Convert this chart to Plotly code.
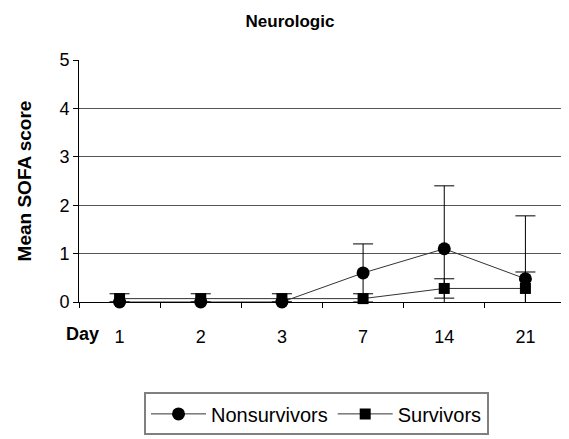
import numpy as np
import plotly.graph_objects as go

# Neurologic SOFA score by day
days = ["1", "2", "3", "7", "14", "21"]
nonsurv_mean = [0.0, 0.0, 0.0, 0.6, 1.1, 0.48]
nonsurv_sd = [0.0, 0.0, 0.0, 0.6, 1.3, 1.3]
surv_mean = [0.07, 0.07, 0.07, 0.07, 0.28, 0.28]
surv_sd = [0.1, 0.1, 0.1, 0.1, 0.2, 0.34]

FONT = "Arial, Liberation Sans, sans-serif"


def err(mean, sd):
    # error bars stop at the x axis, like the original
    m = np.array(mean)
    s = np.array(sd)
    return dict(type="data", symmetric=False, array=s, arrayminus=np.minimum(s, m + 0.05),
                color="black", thickness=1, width=10)


fig = go.Figure()
fig.add_trace(go.Scatter(
    x=days, y=nonsurv_mean, name="Nonsurvivors", mode="lines+markers",
    line=dict(color="#333333", width=1),
    marker=dict(symbol="circle", size=13, color="black"),
    error_y=err(nonsurv_mean, nonsurv_sd), cliponaxis=False,
))
fig.add_trace(go.Scatter(
    x=days, y=surv_mean, name="Survivors", mode="lines+markers",
    line=dict(color="#333333", width=1),
    marker=dict(symbol="square", size=11, color="black"),
    error_y=err(surv_mean, surv_sd), cliponaxis=False,
))

# the page body adds an 8px margin, so the figure is 8px smaller
fig.update_layout(
    width=561, height=431,
    margin=dict(l=71, r=3, t=52, b=130),
    paper_bgcolor="white", plot_bgcolor="white",
    font=dict(family=FONT, size=18, color="black"),
    title=dict(text="<b>Neurologic</b>", x=282 / 561, xanchor="center",
               y=1 - 13 / 431, yanchor="middle", font=dict(size=17)),
    showlegend=True,
    legend=dict(orientation="h", x=(144 - 79) / 487, xanchor="left",
                y=(308 - 401) / 249, yanchor="top",
                bordercolor="#808080", borderwidth=2, itemwidth=55,
                font=dict(size=20)),
    annotations=[dict(text="<b>Day</b>", xref="paper", yref="paper",
                      x=(101 - 79) / 487, xanchor="right",
                      y=(308 - 341) / 249, yanchor="middle",
                      showarrow=False, font=dict(size=18))],
)
fig.update_xaxes(
    type="category", range=[-0.5, 5.5], showgrid=False, zeroline=False,
    showline=True, linecolor="black", linewidth=1,
    ticks="outside", tickson="boundaries", ticklen=5, tickcolor="black",
    ticklabelstandoff=18,
)
fig.update_yaxes(
    range=[0, 5], dtick=1, showgrid=True, gridcolor="#555555", gridwidth=1,
    zeroline=False, showline=True, linecolor="black", linewidth=1,
    ticks="outside", ticklen=5, tickcolor="black",
    title=dict(text="<b>Mean SOFA score</b>", font=dict(size=19), standoff=22),
)

fig.write_html("out.html")
